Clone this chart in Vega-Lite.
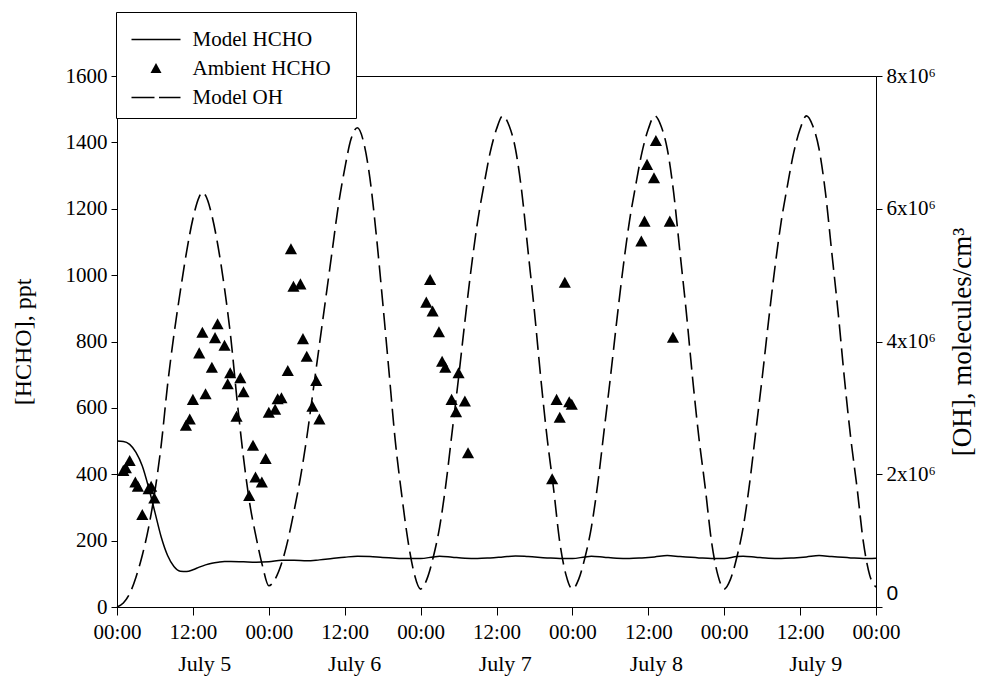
{
  "$schema": "https://vega.github.io/schema/vega-lite/v6.json",
  "width": 759,
  "height": 531,
  "autosize": "none",
  "padding": {"left": 117, "top": 76, "right": 121, "bottom": 93},
  "background": "white",
  "config": {
    "view": {"stroke": "black", "strokeWidth": 1},
    "font": "Liberation Serif",
    "axis": {
      "grid": false,
      "domainColor": "black",
      "tickColor": "black",
      "labelColor": "black",
      "titleColor": "black",
      "labelFont": "Liberation Serif",
      "titleFont": "Liberation Serif",
      "labelFontSize": 21,
      "titleFontSize": 24,
      "titleFontWeight": "normal",
      "domainWidth": 1,
      "tickWidth": 1
    }
  },
  "datasets": {
    "oh": [
      {"h": 0, "oh": 0}, {"h": 1, "oh": 60000}, {"h": 2, "oh": 200000}, {"h": 3, "oh": 450000}, {"h": 4, "oh": 780000},
      {"h": 5, "oh": 1200000}, {"h": 6, "oh": 1750000}, {"h": 7, "oh": 2450000}, {"h": 8, "oh": 3350000}, {"h": 9, "oh": 4100000},
      {"h": 10, "oh": 4750000}, {"h": 11, "oh": 5350000}, {"h": 12, "oh": 5850000}, {"h": 13, "oh": 6180000}, {"h": 13.5, "oh": 6250000},
      {"h": 14, "oh": 6200000}, {"h": 15, "oh": 5900000}, {"h": 16, "oh": 5420000}, {"h": 17, "oh": 4800000}, {"h": 18, "oh": 4050000},
      {"h": 19, "oh": 3100000}, {"h": 20, "oh": 2250000}, {"h": 21, "oh": 1550000}, {"h": 22, "oh": 1050000}, {"h": 23, "oh": 620000},
      {"h": 24, "oh": 320000},
      {"h": 25, "oh": 420000}, {"h": 26, "oh": 650000}, {"h": 27, "oh": 1000000}, {"h": 28, "oh": 1450000}, {"h": 29, "oh": 1950000},
      {"h": 30, "oh": 2550000}, {"h": 31, "oh": 3250000}, {"h": 32, "oh": 3950000}, {"h": 33, "oh": 4650000}, {"h": 34, "oh": 5350000},
      {"h": 35, "oh": 6050000}, {"h": 36, "oh": 6600000}, {"h": 37, "oh": 7050000}, {"h": 38, "oh": 7220000}, {"h": 39, "oh": 7000000},
      {"h": 40, "oh": 6450000}, {"h": 41, "oh": 5600000}, {"h": 42, "oh": 4600000}, {"h": 43, "oh": 3550000}, {"h": 44, "oh": 2500000},
      {"h": 45, "oh": 1700000}, {"h": 46, "oh": 1000000}, {"h": 47, "oh": 500000}, {"h": 48, "oh": 270000},
      {"h": 49, "oh": 420000}, {"h": 50, "oh": 750000}, {"h": 51, "oh": 1200000}, {"h": 52, "oh": 1850000}, {"h": 53, "oh": 2650000},
      {"h": 54, "oh": 3450000}, {"h": 55, "oh": 4300000}, {"h": 56, "oh": 5100000}, {"h": 57, "oh": 5800000}, {"h": 58, "oh": 6350000},
      {"h": 59, "oh": 6850000}, {"h": 60, "oh": 7200000}, {"h": 61, "oh": 7400000}, {"h": 62, "oh": 7250000}, {"h": 63, "oh": 6900000},
      {"h": 64, "oh": 6250000}, {"h": 65, "oh": 5350000}, {"h": 66, "oh": 4450000}, {"h": 67, "oh": 3450000}, {"h": 68, "oh": 2550000},
      {"h": 69, "oh": 1800000}, {"h": 70, "oh": 980000}, {"h": 71, "oh": 480000}, {"h": 72, "oh": 270000},
      {"h": 73, "oh": 420000}, {"h": 74, "oh": 750000}, {"h": 75, "oh": 1200000}, {"h": 76, "oh": 1850000}, {"h": 77, "oh": 2650000},
      {"h": 78, "oh": 3450000}, {"h": 79, "oh": 4300000}, {"h": 80, "oh": 5100000}, {"h": 81, "oh": 5800000}, {"h": 82, "oh": 6350000},
      {"h": 83, "oh": 6850000}, {"h": 84, "oh": 7200000}, {"h": 85, "oh": 7400000}, {"h": 86, "oh": 7250000}, {"h": 87, "oh": 6900000},
      {"h": 88, "oh": 6250000}, {"h": 89, "oh": 5350000}, {"h": 90, "oh": 4450000}, {"h": 91, "oh": 3450000}, {"h": 92, "oh": 2550000},
      {"h": 93, "oh": 1800000}, {"h": 94, "oh": 980000}, {"h": 95, "oh": 480000}, {"h": 96, "oh": 270000},
      {"h": 97, "oh": 420000}, {"h": 98, "oh": 750000}, {"h": 99, "oh": 1200000}, {"h": 100, "oh": 1850000}, {"h": 101, "oh": 2650000},
      {"h": 102, "oh": 3450000}, {"h": 103, "oh": 4300000}, {"h": 104, "oh": 5100000}, {"h": 105, "oh": 5800000}, {"h": 106, "oh": 6350000},
      {"h": 107, "oh": 6850000}, {"h": 108, "oh": 7200000}, {"h": 109, "oh": 7400000}, {"h": 110, "oh": 7250000}, {"h": 111, "oh": 6900000},
      {"h": 112, "oh": 6250000}, {"h": 113, "oh": 5350000}, {"h": 114, "oh": 4450000}, {"h": 115, "oh": 3450000}, {"h": 116, "oh": 2550000},
      {"h": 117, "oh": 1800000}, {"h": 118, "oh": 980000}, {"h": 119, "oh": 480000}, {"h": 120, "oh": 300000}
    ],
    "model": [
      {"h": 0, "ppt": 500}, {"h": 1, "ppt": 499}, {"h": 2, "ppt": 490}, {"h": 3, "ppt": 466}, {"h": 4, "ppt": 425},
      {"h": 5, "ppt": 360}, {"h": 6, "ppt": 285}, {"h": 7, "ppt": 210}, {"h": 8, "ppt": 155}, {"h": 9, "ppt": 122},
      {"h": 10, "ppt": 108}, {"h": 11, "ppt": 107}, {"h": 12, "ppt": 112}, {"h": 13, "ppt": 120}, {"h": 14, "ppt": 127},
      {"h": 15, "ppt": 132}, {"h": 16, "ppt": 135}, {"h": 17, "ppt": 137}, {"h": 18, "ppt": 137}, {"h": 20, "ppt": 136},
      {"h": 22, "ppt": 135}, {"h": 24, "ppt": 136}, {"h": 26, "ppt": 141}, {"h": 28, "ppt": 141}, {"h": 30, "ppt": 139},
      {"h": 32, "ppt": 142}, {"h": 34, "ppt": 146}, {"h": 36, "ppt": 150}, {"h": 38, "ppt": 153}, {"h": 40, "ppt": 152},
      {"h": 42, "ppt": 149}, {"h": 44, "ppt": 147}, {"h": 46, "ppt": 146}, {"h": 48, "ppt": 146}, {"h": 50, "ppt": 151},
      {"h": 51, "ppt": 153}, {"h": 53, "ppt": 150}, {"h": 55, "ppt": 147}, {"h": 57, "ppt": 146}, {"h": 59, "ppt": 148},
      {"h": 61, "ppt": 151}, {"h": 63, "ppt": 154}, {"h": 65, "ppt": 152}, {"h": 68, "ppt": 148}, {"h": 70, "ppt": 146},
      {"h": 72, "ppt": 146}, {"h": 74, "ppt": 151}, {"h": 75, "ppt": 153}, {"h": 77, "ppt": 150}, {"h": 79, "ppt": 147},
      {"h": 81, "ppt": 146}, {"h": 83, "ppt": 148}, {"h": 85, "ppt": 151}, {"h": 87, "ppt": 155}, {"h": 89, "ppt": 152},
      {"h": 92, "ppt": 148}, {"h": 94, "ppt": 146}, {"h": 96, "ppt": 146}, {"h": 98, "ppt": 152}, {"h": 99, "ppt": 153},
      {"h": 101, "ppt": 150}, {"h": 103, "ppt": 147}, {"h": 105, "ppt": 146}, {"h": 107, "ppt": 148}, {"h": 109, "ppt": 151},
      {"h": 111, "ppt": 155}, {"h": 113, "ppt": 152}, {"h": 116, "ppt": 148}, {"h": 118, "ppt": 146}, {"h": 120, "ppt": 147}
    ],
    "ambient": [
      {"h": 1.0, "ppt": 410}, {"h": 1.4, "ppt": 418}, {"h": 2.0, "ppt": 440}, {"h": 2.9, "ppt": 375}, {"h": 3.3, "ppt": 362},
      {"h": 4.0, "ppt": 277}, {"h": 5.0, "ppt": 355}, {"h": 5.4, "ppt": 362}, {"h": 5.9, "ppt": 327},
      {"h": 10.9, "ppt": 546}, {"h": 11.5, "ppt": 565}, {"h": 12.0, "ppt": 624}, {"h": 13.0, "ppt": 764}, {"h": 13.5, "ppt": 826},
      {"h": 14.0, "ppt": 641}, {"h": 15.0, "ppt": 721}, {"h": 15.5, "ppt": 810}, {"h": 15.9, "ppt": 852}, {"h": 17.0, "ppt": 787},
      {"h": 17.5, "ppt": 671}, {"h": 17.9, "ppt": 704}, {"h": 18.9, "ppt": 573}, {"h": 19.5, "ppt": 689}, {"h": 20.0, "ppt": 647},
      {"h": 20.9, "ppt": 334}, {"h": 21.5, "ppt": 486}, {"h": 21.9, "ppt": 390}, {"h": 22.9, "ppt": 375}, {"h": 23.5, "ppt": 446},
      {"h": 24.0, "ppt": 585}, {"h": 25.0, "ppt": 594}, {"h": 25.4, "ppt": 626}, {"h": 26.0, "ppt": 629}, {"h": 27.0, "ppt": 711},
      {"h": 27.5, "ppt": 1078}, {"h": 27.9, "ppt": 965}, {"h": 29.0, "ppt": 972}, {"h": 29.4, "ppt": 807}, {"h": 30.0, "ppt": 754},
      {"h": 30.9, "ppt": 603}, {"h": 31.5, "ppt": 681}, {"h": 32.0, "ppt": 565},
      {"h": 48.9, "ppt": 917}, {"h": 49.5, "ppt": 985}, {"h": 49.9, "ppt": 890}, {"h": 50.9, "ppt": 828}, {"h": 51.4, "ppt": 739},
      {"h": 51.9, "ppt": 721}, {"h": 52.9, "ppt": 624}, {"h": 53.6, "ppt": 587}, {"h": 54.0, "ppt": 704}, {"h": 55.0, "ppt": 619},
      {"h": 55.5, "ppt": 463},
      {"h": 68.8, "ppt": 385}, {"h": 69.5, "ppt": 624}, {"h": 70.0, "ppt": 570}, {"h": 70.8, "ppt": 977}, {"h": 71.5, "ppt": 617},
      {"h": 71.9, "ppt": 609},
      {"h": 82.9, "ppt": 1101}, {"h": 83.4, "ppt": 1161}, {"h": 83.8, "ppt": 1332}, {"h": 84.9, "ppt": 1292}, {"h": 85.2, "ppt": 1404},
      {"h": 87.4, "ppt": 1161}, {"h": 87.9, "ppt": 811}
    ]
  },
  "layer": [
    {
      "data": {"name": "oh"},
      "mark": {"type": "line", "stroke": "black", "strokeWidth": 1.6, "strokeDash": [17, 7], "interpolate": "monotone"},
      "encoding": {
        "x": {
          "field": "h", "type": "quantitative",
          "scale": {"domain": [0, 120], "nice": false, "zero": false},
          "axis": {
            "orient": "bottom", "values": [13.8, 37.5, 61.3, 85.2, 110.4],
            "labelExpr": "'July ' + (5 + floor(datum.value / 24))",
            "domain": false, "ticks": false, "tickSize": 0, "offset": 46, "labelPadding": 0,
            "title": null, "labelFont": "Liberation Serif", "labelFontSize": 22, "labelFlush": false
          }
        },
        "y": {
          "field": "oh", "type": "quantitative",
          "scale": {"domain": [0, 8000000], "nice": false},
          "axis": {
            "orient": "right", "values": [0, 2000000, 4000000, 6000000, 8000000],
            "labelExpr": "datum.value == 0 ? '0' : format(datum.value / 1000000, 'd') + 'x10⁶'",
            "labelFont": {"condition": {"test": "datum.value == 0", "value": "Liberation Sans"}, "value": "Liberation Serif"},
            "labelOffset": {"condition": {"test": "datum.value == 0", "value": -14}, "value": 0},
            "tickSize": 6, "labelPadding": 4,
            "title": "[OH], molecules/cm³", "titleAngle": -90, "titlePadding": 41,
            "titleFont": "Liberation Serif", "titleFontSize": 27
          }
        }
      }
    },
    {
      "data": {"name": "model"},
      "mark": {"type": "line", "stroke": "black", "strokeWidth": 1.5, "interpolate": "monotone"},
      "encoding": {
        "x": {
          "field": "h", "type": "quantitative",
          "scale": {"domain": [0, 120], "nice": false, "zero": false},
          "axis": {
            "orient": "bottom", "values": [0, 12, 24, 36, 48, 60, 72, 84, 96, 108, 120],
            "labelExpr": "datum.value % 24 == 0 ? '00:00' : '12:00'",
            "labelFont": "Liberation Serif", "labelFontSize": 21,
            "tickSize": 8, "labelPadding": 6, "title": null, "labelFlush": false
          }
        },
        "y": {
          "field": "ppt", "type": "quantitative",
          "scale": {"domain": [0, 1600], "nice": false},
          "axis": {
            "orient": "left", "values": [0, 200, 400, 600, 800, 1000, 1200, 1400, 1600],
            "format": "d", "tickSize": 6, "labelPadding": 4,
            "labelFont": "Liberation Serif", "labelFontSize": 21,
            "title": "[HCHO], ppt", "titlePadding": 30,
            "titleFont": "Liberation Serif", "titleFontSize": 24
          }
        }
      }
    },
    {
      "data": {"name": "ambient"},
      "mark": {"type": "point", "filled": true, "fill": "black", "opacity": 1, "size": 122},
      "encoding": {
        "x": {"field": "h", "type": "quantitative", "scale": {"domain": [0, 120], "nice": false, "zero": false}, "axis": null},
        "y": {"field": "ppt", "type": "quantitative", "scale": {"domain": [0, 1600], "nice": false}, "axis": null},
        "shape": {
          "datum": "Ambient HCHO",
          "type": "nominal",
          "scale": {
            "domain": ["Model HCHO", "Ambient HCHO", "Model OH"],
            "range": [
              "M-4.9,-0.15L4.9,-0.15L4.9,0.15L-4.9,0.15Z",
              "M0,-1.1L1.1,0.9L-1.1,0.9Z",
              "M-4.9,-0.15L-0.3,-0.15L-0.3,0.15L-4.9,0.15ZM0.6,-0.15L4.9,-0.15L4.9,0.15L0.6,0.15Z"
            ]
          },
          "legend": {
            "orient": "none", "legendX": -1, "legendY": -64,
            "title": "\u00a0", "titleFontSize": 4, "titlePadding": 3,
            "padding": 10, "fillColor": "white", "strokeColor": "black",
            "symbolSize": 100, "symbolFillColor": "black", "symbolStrokeWidth": 0,
            "symbolOffset": 19.5, "labelOffset": 26,
            "labelFont": "Liberation Serif", "labelFontSize": 21, "labelColor": "black",
            "rowPadding": 7, "labelLimit": 400,
            "labelExpr": "datum.label + '\u2800'"
          }
        }
      }
    }
  ],
  "resolve": {"scale": {"x": "independent", "y": "independent"}}
}
